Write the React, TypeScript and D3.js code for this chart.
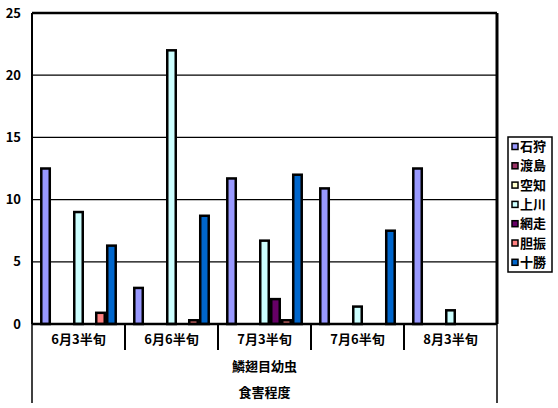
import React from "react";
import * as d3 from "d3";

const categories = ["6月3半旬", "6月6半旬", "7月3半旬", "7月6半旬", "8月3半旬"];
const seriesNames = ["石狩", "渡島", "空知", "上川", "網走", "胆振", "十勝"];
const seriesColors = ["#9999ff", "#993366", "#ffffcc", "#ccffff", "#660066", "#ff8080", "#0066cc"];
const ishikari = [12.5, 2.9, 11.7, 10.9, 12.5];
const oshima = [0, 0, 0, 0, 0];
const sorachi = [0, 0, 0, 0, 0];
const kamikawa = [9.0, 22.0, 6.7, 1.4, 1.1];
const abashiri = [0, 0, 2.0, 0, 0];
const iburi = [0.9, 0.3, 0.3, 0, 0];
const tokachi = [6.3, 8.7, 12.0, 7.5, 0];
const yTicks = [0, 5, 10, 15, 20, 25];
const groupLabel1 = "鱗翅目幼虫";
const groupLabel2 = "食害程度";

const values = [ishikari, oshima, sorachi, kamikawa, abashiri, iburi, tokachi];

const W = 558, H = 408;
const L = 32, R = 497, T = 13, B = 324;
const FONT = "'Noto Sans CJK JP', 'Liberation Sans', sans-serif";

export default function App() {
  const x = d3.scaleBand<string>().domain(categories).range([L, R]).paddingInner(0).paddingOuter(0);
  const xi = d3.scaleBand<string>().domain(seriesNames).range([0, x.bandwidth()]).paddingInner(0).paddingOuter(0.73);
  const y = d3.scaleLinear().domain([0, 25]).range([B, T]);

  const bars: React.ReactNode[] = [];
  seriesNames.forEach((s, si) => {
    categories.forEach((c, ci) => {
      const v = values[si][ci];
      if (!v) return;
      const bx = (x(c) as number) + (xi(s) as number);
      const bw = xi.bandwidth();
      bars.push(
        <rect key={s + c} x={bx + 1.25} y={y(v)} width={bw - 2.5} height={B - y(v)}
          fill={seriesColors[si]} stroke="#000" strokeWidth={2.5} />
      );
    });
  });

  return (
    <svg width={W} height={H} style={{ position: "absolute", left: 0, top: 0, background: "#fff" }} fontFamily={FONT}>
      <rect x={0} y={0} width={W} height={H} fill="#fff" />
      {yTicks.filter(t => t > 0 && t < 25).map(t => (
        <line key={t} x1={L} x2={R} y1={y(t)} y2={y(t)} stroke="#000" strokeWidth={1.3} />
      ))}
      {bars}
      <line x1={L} x2={R} y1={T} y2={T} stroke="#000" strokeWidth={2.5} />
      <line x1={R} x2={R} y1={T} y2={B} stroke="#000" strokeWidth={3} />
      <line x1={L} x2={L} y1={T} y2={B} stroke="#000" strokeWidth={2} />
      <line x1={L} x2={R} y1={B} y2={B} stroke="#000" strokeWidth={2.5} />
      {yTicks.map(t => (
        <text key={t} x={21} y={y(t)} dy="0.35em" textAnchor="end" fontSize={13} fontWeight="bold">{t}</text>
      ))}
      {categories.slice(1).map(c => (
        <line key={c} x1={x(c) as number} x2={x(c) as number} y1={B} y2={350} stroke="#000" strokeWidth={2} />
      ))}
      <line x1={L} x2={L} y1={B} y2={403} stroke="#000" strokeWidth={1.5} />
      <line x1={R} x2={R} y1={B} y2={403} stroke="#000" strokeWidth={1.5} />
      {categories.map(c => (
        <text key={c} x={(x(c) as number) + x.bandwidth() / 2} y={339} dy="0.35em" textAnchor="middle" fontSize={13} fontWeight="bold">{c}</text>
      ))}
      <text x={(L + R) / 2} y={366} dy="0.35em" textAnchor="middle" fontSize={13} fontWeight="bold">{groupLabel1}</text>
      <text x={(L + R) / 2} y={392} dy="0.35em" textAnchor="middle" fontSize={13} fontWeight="bold">{groupLabel2}</text>
      <rect x={508} y={137} width={44} height={135} fill="#fff" stroke="#000" strokeWidth={1.5} />
      {seriesNames.map((s, i) => {
        const cy = 146.5 + i * 19.3;
        return (
          <g key={s}>
            <rect x={512} y={cy - 3} width={6} height={6} fill={seriesColors[i]} stroke="#000" strokeWidth={1.5} />
            <text x={520} y={cy} dy="0.35em" fontSize={13} fontWeight="bold">{s}</text>
          </g>
        );
      })}
    </svg>
  );
}
